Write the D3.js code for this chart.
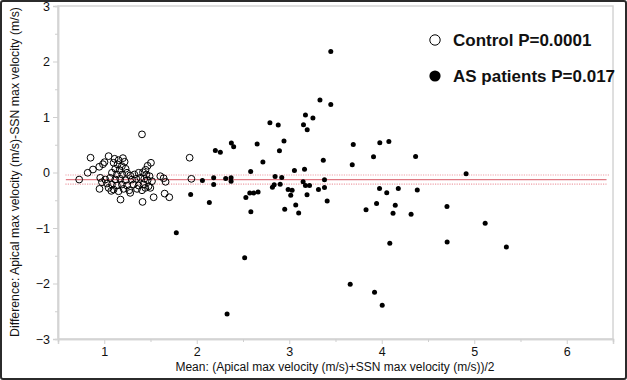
<!DOCTYPE html>
<html>
<head>
<meta charset="utf-8">
<script src="https://cdn.jsdelivr.net/npm/d3@7"></script>
<style>
html,body{margin:0;padding:0;background:#fff;}
svg{display:block;font-family:"Liberation Sans",Arial,Helvetica,sans-serif;}
</style>
</head>
<body>
<svg id="chart" width="627" height="380"></svg>
<script>
// ---- data ----
const xTicks = [1, 2, 3, 4, 5, 6];
const yTicks = [-3, -2, -1, 0, 1, 2, 3];
const xMinorTicks = [0.5, 1.5, 2.5, 3.5, 4.5, 5.5, 6.5];
const yMinorTicks = [-2.5, -1.5, -0.5, 0.5, 1.5, 2.5];
const meanDiff = -0.127;
const limitUpper = -0.045;
const limitLower = -0.21;

const controlMean = [0.729,0.821,0.852,0.878,0.946,1.003,0.986,1.047,0.949,1.176,1.414,1.534,1.653,1.703,1.606,1.642,1.663,1.408,1.923,1.942,1.505,1.469,1.447,1.076,1.271,
1.112,1.155,1.202,1.220,1.101,1.144,1.191,1.231,1.119,1.166,1.083,1.137,1.195,1.246,1.281,1.325,1.371,1.419,1.455,1.490,1.065,1.119,1.173,1.227,1.300,1.346,1.390,1.433,1.469,1.516,0.957,1.011,0.975,1.029,1.083,1.137,1.191,1.246,1.317,1.371,1.425,1.479,1.047,1.101,1.209,1.354,1.444,1.498,1.155,1.281,1.408];
const controlDiff = [-0.127,-0.005,0.266,0.054,0.103,0.186,0.150,0.295,-0.295,-0.488,-0.530,-0.446,-0.380,-0.446,-0.067,-0.103,-0.168,0.687,0.266,-0.114,0.175,0.121,0.049,-0.331,-0.320,
0.247,0.222,0.259,0.193,0.175,0.145,0.114,0.067,0.067,0.042,-0.005,-0.036,-0.036,-0.005,-0.054,-0.036,-0.005,0.005,-0.036,-0.067,-0.096,-0.127,-0.114,-0.139,-0.127,-0.114,-0.096,-0.114,-0.139,-0.157,-0.096,-0.127,-0.175,-0.199,-0.217,-0.235,-0.217,-0.235,-0.217,-0.235,-0.217,-0.248,-0.277,-0.307,-0.295,-0.295,-0.277,-0.277,-0.338,-0.367,-0.320];

const asMean = [1.779,1.934,2.061,2.136,2.183,2.183,2.201,2.255,2.313,2.328,2.371,2.371,2.374,2.399,2.518,2.531,2.573,2.583,2.585,2.616,2.653,2.663,2.715,2.791,2.881,2.894,2.943,2.847,2.919,2.818,2.837,2.902,2.951,2.988,3.031,3.016,3.056,3.070,3.102,3.154,3.165,3.175,3.194,3.256,3.150,3.175,3.219,3.192,3.316,3.332,3.368,3.381,3.381,3.410,3.449,3.449,3.659,3.681,3.692,3.830,3.911,3.922,3.944,3.976,3.979,4.005,4.054,4.077,4.087,4.122,4.146,4.179,4.317,4.366,4.384,4.705,4.707,4.912,5.118,5.347];
const asDiff = [-1.084,-0.398,-0.145,-0.542,-0.096,-0.217,0.398,0.367,-0.108,-2.548,-0.096,-0.157,0.533,0.464,-1.536,-0.452,-0.370,0.018,-0.705,-0.370,0.515,-0.352,0.190,0.895,0.855,0.392,0.566,-0.072,-0.090,-0.266,-0.222,-0.211,-0.663,-0.307,-0.320,-0.410,0.036,-0.584,-0.728,0.862,0.060,1.036,0.772,0.981,-0.168,-0.235,-0.235,-0.403,-0.307,1.307,0.222,-0.130,-0.271,-0.515,2.181,1.225,-2.012,0.139,0.506,-0.669,0.284,-2.156,-0.560,-0.289,0.537,-2.391,-0.365,0.560,-1.274,-0.732,-0.591,-0.289,-0.754,0.289,-0.316,-0.614,-1.252,-0.022,-0.913,-1.343];

const legendLabels = ["Control P=0.0001", "AS patients P=0.017"];
const xTitle = "Mean: (Apical max velocity (m/s)+SSN max velocity (m/s))/2";
const yTitle = "Difference: Apical max velocity (m/s)-SSN max velocity (m/s)";

// ---- layout ----
const svg = d3.select("#chart");
const W = 627, H = 380;
const pLeft = 58, pRight = 613, pTop = 6, pBottom = 339;

const x = d3.scaleLinear().domain([0.5, 6.5]).range([pLeft, pRight]);
const y = d3.scaleLinear().domain([-3, 3]).range([pBottom, pTop]);

// outer border
svg.append("rect").attr("x", 1).attr("y", 1).attr("width", W - 2).attr("height", H - 2)
  .attr("rx", 2).attr("fill", "#fff").attr("stroke", "#2b2b2b").attr("stroke-width", 2);

// plot frame
svg.append("rect").attr("x", pLeft).attr("y", pTop).attr("width", pRight - pLeft).attr("height", pBottom - pTop)
  .attr("fill", "none").attr("stroke", "#d4d4d4").attr("stroke-width", 1.5);

// axes
const gx = svg.append("g").attr("transform", `translate(0,${pBottom})`)
  .call(d3.axisBottom(x).tickValues(xTicks).tickSize(5).tickPadding(3).tickFormat(d3.format("d")));
gx.append("g").call(d3.axisBottom(x).tickValues(xMinorTicks).tickSize(3).tickFormat(""));
const gy = svg.append("g").attr("transform", `translate(${pLeft},0)`)
  .call(d3.axisLeft(y).tickValues(yTicks).tickSize(5).tickPadding(3).tickFormat(d3.format("d")));
gy.append("g").call(d3.axisLeft(y).tickValues(yMinorTicks).tickSize(3).tickFormat(""));
[gx, gy].forEach(g => {
  g.selectAll(".domain").attr("stroke", "#d4d4d4").attr("stroke-width", 1.5);
  g.selectAll(".tick line").attr("stroke", "#cfcfcf");
  g.selectAll(".tick text").attr("fill", "#111").style("font-size", "12.5px")
    .style("font-family", "'Liberation Sans',Arial,Helvetica,sans-serif");
});

// axis titles
svg.append("text").attr("x", 335).attr("y", 371).attr("text-anchor", "middle")
  .style("font-size", "12px").attr("fill", "#111").text(xTitle);
svg.append("text").attr("transform", `translate(19,${172}) rotate(-90)`).attr("text-anchor", "middle")
  .style("font-size", "12.3px").attr("fill", "#111").text(yTitle);

// reference lines
svg.append("line").attr("x1", x(0.58)).attr("x2", x(6.47)).attr("y1", y(limitUpper)).attr("y2", y(limitUpper))
  .attr("stroke", "#eea0a8").attr("stroke-width", 1.2).attr("stroke-dasharray", "1.2,1.2");
svg.append("line").attr("x1", x(0.58)).attr("x2", x(6.43)).attr("y1", y(limitLower)).attr("y2", y(limitLower))
  .attr("stroke", "#eea0a8").attr("stroke-width", 1.2).attr("stroke-dasharray", "1.2,1.2");
svg.append("line").attr("x1", x(0.585)).attr("x2", x(6.43)).attr("y1", y(meanDiff)).attr("y2", y(meanDiff))
  .attr("stroke", "#e07a84").attr("stroke-width", 1.2);

// points
const controls = controlMean.map((m, i) => ({m, d: controlDiff[i]}));
const patients = asMean.map((m, i) => ({m, d: asDiff[i]}));

svg.append("g").selectAll("circle").data(controls).join("circle")
  .attr("cx", p => x(p.m)).attr("cy", p => y(p.d)).attr("r", 3.4)
  .attr("fill", "none").attr("stroke", "#000").attr("stroke-width", 1);

svg.append("g").selectAll("circle").data(patients).join("circle")
  .attr("cx", p => x(p.m)).attr("cy", p => y(p.d)).attr("r", 2.5)
  .attr("fill", "#000");

// legend
const lg = svg.append("g");
lg.append("circle").attr("cx", 435).attr("cy", 40).attr("r", 5.2).attr("fill", "#fff").attr("stroke", "#000").attr("stroke-width", 1);
lg.append("circle").attr("cx", 435).attr("cy", 76).attr("r", 5.6).attr("fill", "#000");
lg.selectAll("text").data(legendLabels).join("text")
  .attr("x", 453).attr("y", (d, i) => 46 + i * 36)
  .style("font-size", "17px").style("font-weight", "bold").attr("fill", "#111").text(d => d);
</script>
</body>
</html>
